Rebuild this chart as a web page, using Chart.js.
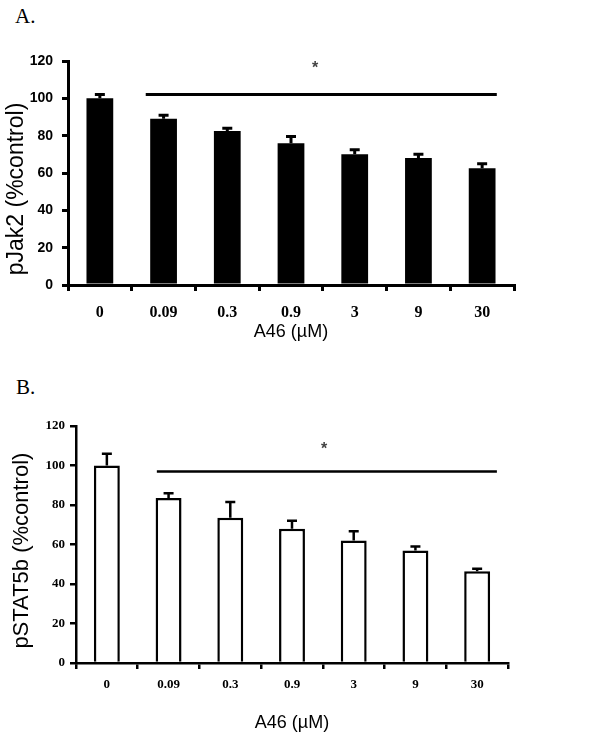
<!DOCTYPE html>
<html>
<head>
<meta charset="utf-8">
<script src="https://cdn.jsdelivr.net/npm/chart.js@4"></script>
<style>
  body { margin: 0; background: #fff; }
  #wrap { position: relative; width: 614px; height: 743px; }
  .panel { position: absolute; left: 0; width: 614px; }
  .tag { position: absolute; font-family: "Liberation Serif", serif; font-size: 21px; color: #000; }
</style>
</head>
<body>
<div id="wrap">
  <div class="tag" style="left:15px; top:4px;">A.</div>
  <div class="panel" style="top:0; height:350px;"><canvas id="chartA"></canvas></div>
  <div class="tag" style="left:16px; top:375px;">B.</div>
  <div class="panel" style="top:370px; height:373px;"><canvas id="chartB"></canvas></div>
</div>
<script>
// Data
const doses = ["0", "0.09", "0.3", "0.9", "3", "9", "30"];
const jak2Values = [100, 89, 82.5, 76, 70, 68, 62.5];
const jak2Errors = [2, 2, 1.5, 3.5, 2.5, 2, 2.5];
const stat5bValues = [100, 83.5, 73.5, 68, 62, 57, 46.5];
const stat5bErrors = [6, 2.5, 8, 4, 4.7, 2, 1.2];
const yTicks = [0, 20, 40, 60, 80, 100, 120];

// error bars (upper half only) drawn over each bar
const errorBars = {
  id: "errorBars",
  afterDatasetsDraw(chart, args, opts) {
    const ctx = chart.ctx;
    const yScale = chart.scales.y;
    const meta = chart.getDatasetMeta(0);
    ctx.save();
    ctx.strokeStyle = "#000";
    ctx.lineWidth = opts.width;
    meta.data.forEach(function (bar, i) {
      const v = chart.data.datasets[0].data[i];
      const top = yScale.getPixelForValue(v + opts.errors[i]);
      ctx.beginPath();
      ctx.moveTo(bar.x, bar.y);
      ctx.lineTo(bar.x, top);
      ctx.moveTo(bar.x - opts.cap / 2, top);
      ctx.lineTo(bar.x + opts.cap / 2, top);
      ctx.stroke();
    });
    ctx.restore();
  }
};

// significance bracket line and asterisk
const sigMark = {
  id: "sigMark",
  afterDatasetsDraw(chart, args, opts) {
    const ctx = chart.ctx;
    const x = chart.scales.x;
    const y = chart.scales.y;
    const step = x.getPixelForValue(1) - x.getPixelForValue(0);
    const x0 = x.getPixelForValue(0) + opts.from * step;
    const x1 = x.getPixelForValue(0) + opts.to * step;
    const ly = y.getPixelForValue(opts.level);
    ctx.save();
    ctx.strokeStyle = "#000";
    ctx.lineWidth = opts.width;
    ctx.beginPath();
    ctx.moveTo(x0, ly);
    ctx.lineTo(x1, ly);
    ctx.stroke();
    ctx.fillStyle = "#444";
    ctx.font = "bold 16px 'Liberation Sans', sans-serif";
    ctx.textAlign = "center";
    ctx.textBaseline = "middle";
    ctx.fillText("*", x.getPixelForValue(0) + opts.starAt * step, y.getPixelForValue(opts.starLevel) + 3);
    ctx.restore();
  }
};

function makeChart(id, cfg) {
  return new Chart(document.getElementById(id), {
    type: "bar",
    data: {
      labels: doses,
      datasets: [{
        data: cfg.values,
        backgroundColor: cfg.fill,
        borderColor: "#000",
        borderWidth: cfg.border,
        borderSkipped: "bottom",
        categoryPercentage: 1,
        barPercentage: 0.42
      }]
    },
    plugins: [errorBars, sigMark],
    options: {
      responsive: true,
      maintainAspectRatio: false,
      animation: false,
      events: [],
      layout: { padding: cfg.padding },
      plugins: {
        legend: { display: false },
        tooltip: { enabled: false },
        errorBars: { errors: cfg.errors, width: cfg.errWidth, cap: 10 },
        sigMark: cfg.sig
      },
      scales: {
        x: {
          afterFit: function (s) { s.height = cfg.xHeight; },
          border: { color: "#000", width: cfg.axisWidth },
          grid: { drawOnChartArea: false, color: "#000", lineWidth: cfg.axisWidth, tickLength: 6, offset: true },
          ticks: {
            color: "#000",
            padding: cfg.xTickPad,
            font: { family: "'Liberation Serif', serif", weight: "bold", size: cfg.xTickSize }
          },
          title: {
            display: true,
            text: "A46 (µM)",
            color: "#000",
            padding: { bottom: cfg.xTitlePad },
            font: { family: "'Liberation Sans', Arial, sans-serif", size: 18 }
          }
        },
        y: {
          min: 0,
          max: 120,
          afterFit: function (s) { s.width = cfg.yWidth; },
          afterBuildTicks: function (s) { s.ticks = yTicks.map(v => ({ value: v })); },
          border: { color: "#000", width: cfg.axisWidth },
          grid: { drawOnChartArea: false, color: "#000", lineWidth: cfg.axisWidth, tickLength: 6 },
          ticks: {
            color: "#000",
            padding: cfg.yTickPad,
            font: cfg.yTickFont
          },
          title: {
            display: true,
            // trailing spaces nudge the rotated title down, as in the original
            text: cfg.yTitle,
            color: "#000",
            padding: { top: cfg.yTitlePad },
            font: { family: "'Liberation Sans', Arial, sans-serif", size: cfg.yTitleSize }
          }
        }
      }
    }
  });
}

makeChart("chartA", {
  values: jak2Values,
  errors: jak2Errors,
  fill: "#000",
  border: 0,
  errWidth: 3,
  axisWidth: 3,
  padding: { left: 0, right: 100, top: 61, bottom: 0 },
  xHeight: 65,
  xTickPad: 12,
  xTickSize: 16,
  xTitlePad: 7,
  yWidth: 68,
  yTickPad: 9,
  yTickFont: { family: "'Liberation Sans', Arial, sans-serif", weight: "bold", size: 14 },
  yTitle: "pJak2 (%control)     ",
  yTitleSize: 23,
  yTitlePad: 3,
  sig: { from: 0.72, to: 6.23, level: 102, width: 3, starAt: 3.38, starLevel: 117.5 }
});

makeChart("chartB", {
  values: stat5bValues,
  errors: stat5bErrors,
  fill: "#fff",
  border: 2.5,
  errWidth: 2.5,
  axisWidth: 2.5,
  padding: { left: 0, right: 106, top: 56, bottom: 0 },
  xHeight: 80,
  xTickPad: 8,
  xTickSize: 13,
  xTitlePad: 9,
  yWidth: 76,
  yTickPad: 5,
  yTickFont: { family: "'Liberation Serif', serif", weight: "bold", size: 13 },
  yTitle: "pSTAT5b (%control)  ",
  yTitleSize: 22,
  yTitlePad: 9,
  sig: { from: 0.81, to: 6.32, level: 97, width: 2.5, starAt: 3.52, starLevel: 109.4 }
});
</script>
</body>
</html>
